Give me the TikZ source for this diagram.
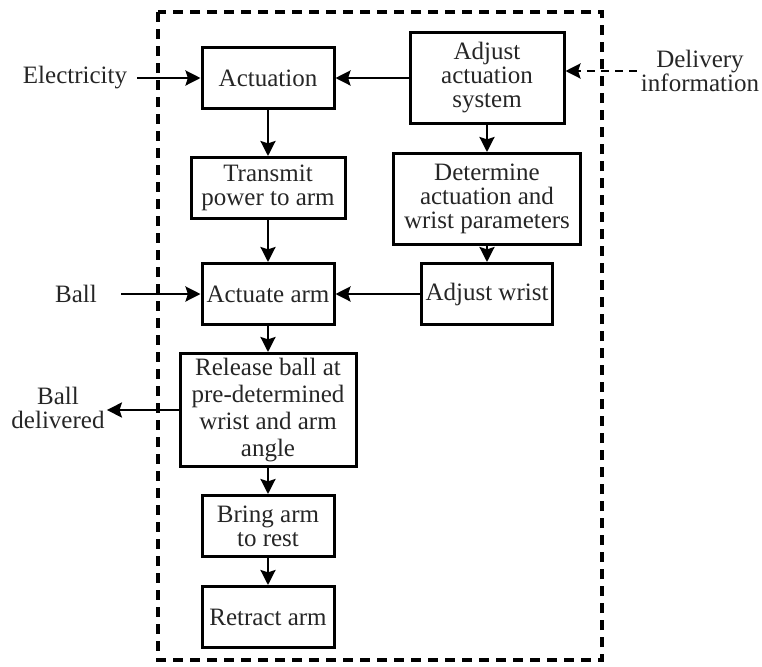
\documentclass[tikz,border=0pt]{standalone}
\usepackage{fontspec}
\setmainfont{Liberation Serif}
\usetikzlibrary{arrows.meta,positioning}

\begin{document}
\begin{tikzpicture}[
  x=0.5pt, y=-0.5pt,
  every node/.style={font=\fontsize{12.5}{12}\selectfont, align=center, text=black!85},
  box/.style={draw, line width=1.5pt, inner sep=1pt, minimum height=30.5pt},
  lbl/.style={inner sep=2pt},
  arr/.style={line width=1.3pt, -{Stealth[length=7.5pt,width=7.5pt,inset=1.2pt]}}
]
\useasboundingbox (0,0) rectangle (762,666);
\draw[line width=1.7pt, dash pattern=on 5pt off 3.5pt] (158,12) rectangle (602,660);

\node[box, minimum width=66pt] (act) at (268,78) {Actuation};
\node[box, minimum width=77pt] (trans) at (268,188) {Transmit\\power to arm};
\node[box, minimum width=66pt] (actarm) at (268,294) {Actuate arm};
\node[box, minimum width=88pt, minimum height=56.5pt,
  font=\fontsize{12.5}{13.5}\selectfont] (release) at (268,410)
  {Release ball at\\pre-determined\\wrist and arm\\angle};
\node[box, minimum width=66pt] (bring) at (268,526) {Bring arm\\to rest};
\node[box, minimum width=66pt] (retract) at (268,617) {Retract arm};

\node[box, minimum width=77pt, minimum height=45.5pt] (adj) at (487,78) {Adjust\\actuation\\system};
\node[box, minimum width=93.5pt, minimum height=45.5pt] (det) at (487,199) {Determine\\actuation and\\wrist parameters};
\node[box, minimum width=65.5pt] (wrist) at (487,294) {Adjust wrist};

\node[lbl, inner sep=5pt] (elec) at (75,78) {Electricity};
\node[lbl] (ball) at (76,294) {Ball};
\node[lbl, inner sep=1pt] (balldel) at (58,408) {Ball\\delivered};
\node[lbl] (info) at (700,71) {Delivery\\information};

\draw[arr] (elec) -- (act);
\draw[arr, shorten <=10pt] (ball) -- (actarm);
\draw[arr] (release) -- (balldel.east |- release);
\draw[arr, dash pattern=on 4pt off 3pt] (info.west) -- (info.west -| adj.east);

\draw[arr] (adj) -- (act);
\draw[arr] (act) -- (trans);
\draw[arr] (trans) -- (actarm);
\draw[arr] (adj) -- (det);
\draw[arr] (det) -- (wrist);
\draw[arr] (wrist) -- (actarm);
\draw[arr] (actarm) -- (release);
\draw[arr] (release) -- (bring);
\draw[arr] (bring) -- (retract);
\end{tikzpicture}
\end{document}
